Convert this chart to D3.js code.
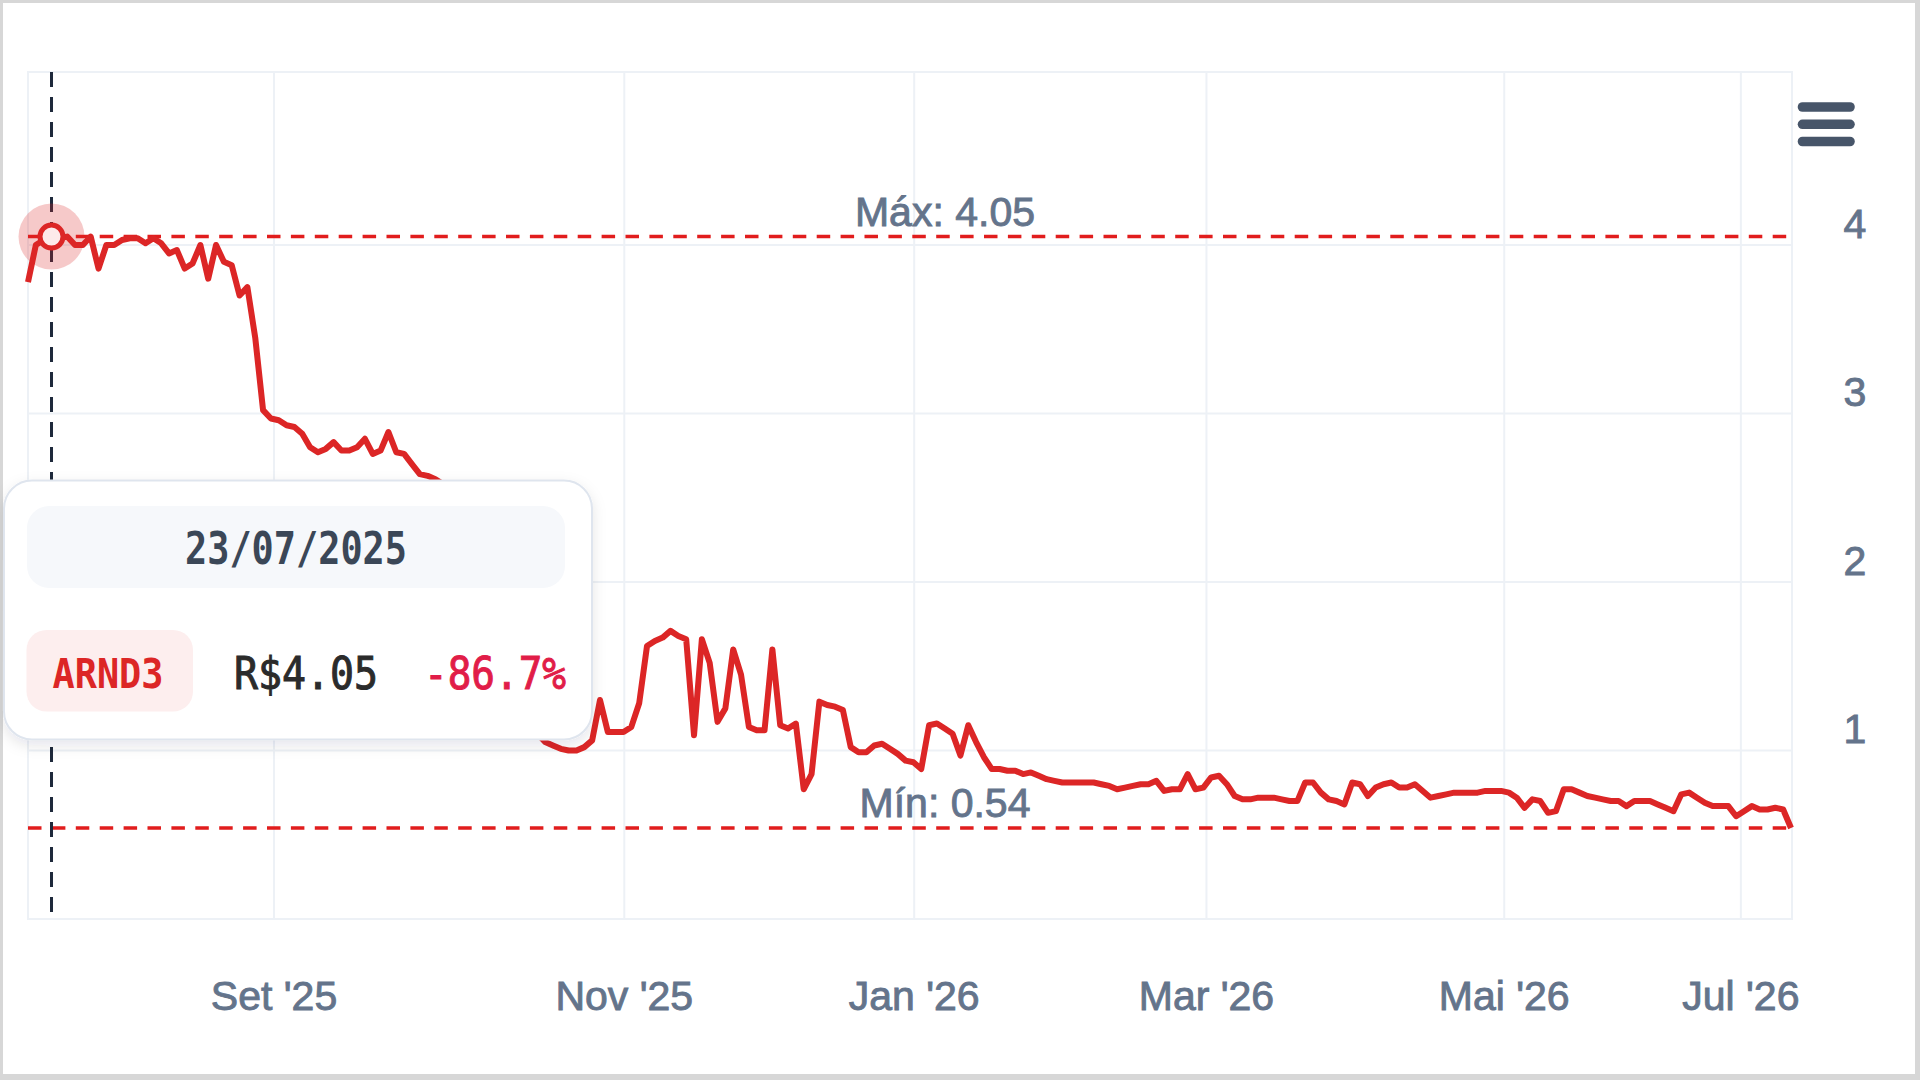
<!DOCTYPE html>
<html>
<head>
<meta charset="utf-8">
<script src="https://cdn.jsdelivr.net/npm/d3@7/dist/d3.min.js"></script>
<style>
  html, body { margin: 0; padding: 0; background: #d7d7d7; overflow: hidden; }
  svg { display: block; }
</style>
</head>
<body>
<svg id="chart" width="1920" height="1080"></svg>
<script>
//! ===== 0. Data =====
// closing prices, one per trading day (ordinal axis)
const prices = [
  3.78, 4.00, 4.03, 4.05, 4.04, 4.05, 4.00, 4.00, 4.05, 3.86,
  4.00, 4.00, 4.03, 4.04, 4.04, 4.01, 4.04, 4.01, 3.95, 3.97,
  3.86, 3.89, 4.00, 3.80, 4.00, 3.90, 3.88, 3.70, 3.75, 3.45,
  3.02, 2.97, 2.96, 2.93, 2.92, 2.88, 2.80, 2.77, 2.79, 2.83,
  2.78, 2.78, 2.80, 2.85, 2.76, 2.78, 2.89, 2.77, 2.76, 2.70,
  2.64, 2.63, 2.61, 2.58, 2.52, 2.45, 2.30, 2.18, 2.05, 1.92,
  1.70, 1.55, 1.42, 1.30, 1.18, 1.10, 1.05, 1.03, 1.01, 1.00,
  1.00, 1.02, 1.06, 1.30, 1.11, 1.11, 1.11, 1.14, 1.28, 1.62,
  1.65, 1.67, 1.71, 1.68, 1.66, 1.09, 1.66, 1.52, 1.17, 1.25,
  1.60, 1.45, 1.14, 1.12, 1.12, 1.60, 1.15, 1.13, 1.16, 0.77,
  0.86, 1.29, 1.27, 1.26, 1.24, 1.02, 0.99, 0.99, 1.03, 1.04,
  1.01, 0.98, 0.94, 0.93, 0.89, 1.15, 1.16, 1.13, 1.10, 0.97,
  1.15, 1.05, 0.96, 0.89, 0.89, 0.88, 0.88, 0.86, 0.87, 0.85,
  0.83, 0.82, 0.81, 0.81, 0.81, 0.81, 0.81, 0.80, 0.79, 0.77,
  0.78, 0.79, 0.80, 0.80, 0.82, 0.76, 0.77, 0.77, 0.86, 0.77,
  0.78, 0.84, 0.85, 0.80, 0.73, 0.71, 0.71, 0.72, 0.72, 0.72,
  0.71, 0.70, 0.70, 0.81, 0.81, 0.75, 0.71, 0.70, 0.68, 0.81,
  0.80, 0.73, 0.78, 0.80, 0.81, 0.78, 0.78, 0.80, 0.76, 0.72,
  0.73, 0.74, 0.75, 0.75, 0.75, 0.75, 0.76, 0.76, 0.76, 0.75,
  0.72, 0.66, 0.71, 0.70, 0.63, 0.64, 0.77, 0.77, 0.75, 0.73,
  0.72, 0.71, 0.70, 0.70, 0.67, 0.70, 0.70, 0.70, 0.68, 0.66,
  0.64, 0.74, 0.75, 0.72, 0.69, 0.67, 0.67, 0.67, 0.61, 0.64,
  0.67, 0.65, 0.65, 0.66, 0.65, 0.54
];

// month ticks, placed on the ordinal (trading-day) index
const tickLabels = ["Set '25", "Nov '25", "Jan '26", "Mar '26", "Mai '26", "Jul '26"];
const tickIndex  = [31.4, 76.1, 113.1, 150.4, 188.4, 218.6];
const yTicks = [1, 2, 3, 4];

// hovered point
const ticker = "ARND3";
const hoverIndex = 3;
const hoverDate = "23/07/2025";


//! ===== I. Layout =====
const plot = {left: 28, right: 1792, top: 72, bottom: 919};
const gridColor = "#edf1f6";
const labelColor = "#64748b";
const red = "#dc2626";
const axisFont = "'Liberation Sans', Arial, sans-serif";
const monoFont = "'DejaVu Sans Mono', monospace";

const svg = d3.select("#chart");

// card
svg.append("rect")
    .attr("x", 3).attr("y", 3)
    .attr("width", 1912).attr("height", 1071)
    .attr("fill", "#fff");

const defs = svg.append("defs");
const shadow = defs.append("filter").attr("id", "tipShadow")
    .attr("x", "-10%").attr("y", "-10%").attr("width", "130%").attr("height", "140%");
shadow.append("feDropShadow")
    .attr("dx", 0).attr("dy", 5).attr("stdDeviation", 7)
    .attr("flood-color", "#0f172a").attr("flood-opacity", 0.10);

const x = d3.scaleLinear()
    .domain([0, prices.length - 1])
    .range([28, 1791]);

const y = d3.scaleLinear()
    .domain([0, 5])
    .range([919, 76.5]);

// medium-weight look for the sans labels
function medium(sel, color) {
    sel.attr("stroke", color)
       .attr("stroke-width", 0.9)
       .attr("paint-order", "stroke");
}


//! ===== II. Grid =====
const grid = svg.append("g");

grid.selectAll("line.v")
    .data(tickIndex)
    .enter().append("line")
    .attr("x1", d => x(d)).attr("x2", d => x(d))
    .attr("y1", plot.top).attr("y2", plot.bottom)
    .attr("stroke", gridColor).attr("stroke-width", 2);

grid.selectAll("line.h")
    .data(yTicks)
    .enter().append("line")
    .attr("x1", plot.left).attr("x2", plot.right)
    .attr("y1", d => y(d)).attr("y2", d => y(d))
    .attr("stroke", gridColor).attr("stroke-width", 2);

grid.append("rect")
    .attr("x", plot.left).attr("y", plot.top)
    .attr("width", plot.right - plot.left)
    .attr("height", plot.bottom - plot.top)
    .attr("fill", "none")
    .attr("stroke", gridColor).attr("stroke-width", 2);


//! ===== III. Max / Min plot lines =====
const maxVal = d3.max(prices);
const minVal = d3.min(prices);

const refLines = [
    {label: "Máx: " + maxVal.toFixed(2), value: maxVal},
    {label: "Mín: " + minVal.toFixed(2), value: minVal}
];

svg.selectAll("line.ref")
    .data(refLines)
    .enter().append("line")
    .attr("x1", plot.left).attr("x2", plot.right)
    .attr("y1", d => y(d.value)).attr("y2", d => y(d.value))
    .attr("stroke", "#e11d1d")
    .attr("stroke-width", 3.5)
    .attr("stroke-dasharray", "13.5,10.4");

svg.selectAll("text.ref")
    .data(refLines)
    .enter().append("text")
    .attr("x", 945)
    .attr("y", d => y(d.value) - 11)
    .attr("text-anchor", "middle")
    .attr("font-family", axisFont)
    .attr("font-size", 41)
    .attr("fill", labelColor)
    .call(medium, labelColor)
    .text(d => d.label);


//! ===== IV. Crosshair + series =====
const hx = x(hoverIndex);
const hy = y(prices[hoverIndex]);

svg.append("line")
    .attr("x1", hx).attr("x2", hx)
    .attr("y1", plot.top).attr("y2", plot.bottom)
    .attr("stroke", "#1e293b")
    .attr("stroke-width", 3)
    .attr("stroke-dasharray", "15,10");

svg.append("circle")
    .attr("cx", hx).attr("cy", hy).attr("r", 33)
    .attr("fill", red).attr("fill-opacity", 0.25);

const line = d3.line()
    .x((d, i) => x(i))
    .y(d => y(d));

svg.append("path")
    .datum(prices)
    .attr("d", line)
    .attr("fill", "none")
    .attr("stroke", red)
    .attr("stroke-width", 6)
    .attr("stroke-linejoin", "round");

svg.append("circle")
    .attr("cx", hx).attr("cy", hy).attr("r", 11.5)
    .attr("fill", "#fdeaea")
    .attr("stroke", red).attr("stroke-width", 5);


//! ===== V. Axes labels =====
svg.selectAll("text.xl")
    .data(tickLabels)
    .enter().append("text")
    .attr("x", (d, i) => x(tickIndex[i]))
    .attr("y", 1010)
    .attr("text-anchor", "middle")
    .attr("font-family", axisFont)
    .attr("font-size", 41)
    .attr("fill", labelColor)
    .call(medium, labelColor)
    .text(d => d);

svg.selectAll("text.yl")
    .data(yTicks)
    .enter().append("text")
    .attr("x", 1855)
    .attr("y", d => y(d) - 7.5)
    .attr("text-anchor", "middle")
    .attr("font-family", axisFont)
    .attr("font-size", 41)
    .attr("fill", labelColor)
    .call(medium, labelColor)
    .text(d => d);

// export menu icon
const menu = svg.append("g");
[107, 124.3, 141.5].forEach(cy => {
    menu.append("line")
        .attr("x1", 1802.5).attr("x2", 1850)
        .attr("y1", cy).attr("y2", cy)
        .attr("stroke", "#475569")
        .attr("stroke-width", 9.6)
        .attr("stroke-linecap", "round");
});


//! ===== VI. Tooltip =====
const tip = svg.append("g");
const lastVal = prices[prices.length - 1];
const change = (lastVal - prices[hoverIndex]) / prices[hoverIndex] * 100;

tip.append("rect")
    .attr("x", 4).attr("y", 480.5)
    .attr("width", 588).attr("height", 259)
    .attr("rx", 28)
    .attr("fill", "#fff")
    .attr("stroke", "#dfe5ee").attr("stroke-width", 2)
    .attr("filter", "url(#tipShadow)");

tip.append("rect")
    .attr("x", 27).attr("y", 506)
    .attr("width", 538).attr("height", 82)
    .attr("rx", 22)
    .attr("fill", "#f6f8fb");

tip.append("text")
    .attr("x", 296).attr("y", 564)
    .attr("text-anchor", "middle")
    .attr("font-family", monoFont)
    .attr("font-weight", 700)
    .attr("font-size", 44)
    .attr("textLength", 222)
    .attr("lengthAdjust", "spacingAndGlyphs")
    .attr("fill", "#3b4757")
    .text(hoverDate);

tip.append("rect")
    .attr("x", 26.5).attr("y", 630)
    .attr("width", 166.5).attr("height", 81.5)
    .attr("rx", 20)
    .attr("fill", "#fdeeee");

tip.append("text")
    .attr("x", 108).attr("y", 688)
    .attr("text-anchor", "middle")
    .attr("font-family", monoFont)
    .attr("font-weight", 700)
    .attr("font-size", 41)
    .attr("textLength", 111)
    .attr("lengthAdjust", "spacingAndGlyphs")
    .attr("fill", red)
    .text(ticker);

tip.append("text")
    .attr("x", 234).attr("y", 689)
    .attr("font-family", monoFont)
    .attr("font-size", 44)
    .attr("textLength", 144)
    .attr("lengthAdjust", "spacingAndGlyphs")
    .attr("fill", "#2b2b2b")
    .attr("stroke", "#2b2b2b").attr("stroke-width", 1)
    .text("R$" + prices[hoverIndex].toFixed(2));

tip.append("text")
    .attr("x", 424).attr("y", 689)
    .attr("font-family", monoFont)
    .attr("font-size", 44)
    .attr("textLength", 142)
    .attr("lengthAdjust", "spacingAndGlyphs")
    .attr("fill", "#e11d48")
    .attr("stroke", "#e11d48").attr("stroke-width", 1)
    .text(change.toFixed(1) + "%");
</script>
</body>
</html>
